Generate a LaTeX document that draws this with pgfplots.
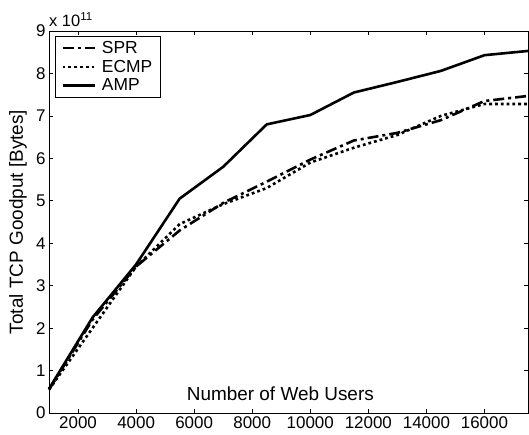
\documentclass[border=0pt]{standalone}
\usepackage{pgfplots}
\pgfplotsset{compat=1.18}
\usepackage{fontspec}
\setmainfont{Liberation Sans}

\begin{document}
\begin{tikzpicture}[font=\fontsize{19}{22}\selectfont]
\begin{axis}[
    width=479bp, height=382bp, scale only axis,
    xmin=1000, xmax=17500, ymin=0, ymax=9,
    xtick={2000,4000,...,16000}, ytick={0,1,...,9},
    tick align=inside, major tick length=4bp,
    every tick/.style={black, line width=0.6bp},
    axis line style={line width=0.8bp},
    tick label style={font=\fontsize{17}{20}\selectfont},
    /pgf/number format/assume math mode=true,
    /pgf/number format/1000 sep={},
    scaled ticks=false,
    ylabel={Total TCP Goodput [Bytes]},
    ylabel style={at={(rel axis cs:0,0.5)}, yshift=31bp, anchor=center},
    legend cell align=left,
    legend style={at={(rel axis cs:0.0125,0.987)}, anchor=north west,
        draw=black, line width=0.8bp, inner xsep=6bp, inner ysep=3bp,
        row sep=1bp, font=\fontsize{17.5}{20}\selectfont,
        nodes={inner sep=2bp}},
    legend image code/.code={\path (0bp,0bp) (36bp,0bp);
        \draw[#1] (0bp,0bp) -- (32bp,0bp);},
    clip=false,
]
% SPR
\addplot[black, line width=2.6bp, dash pattern=on 11bp off 4bp on 3bp off 4bp]
    coordinates {(1000,0.55) (2500,2.2) (4000,3.45) (5500,4.3) (7000,4.95)
    (8500,5.45) (10000,5.97) (11500,6.42) (13000,6.6) (14500,6.9)
    (16000,7.35) (17500,7.47)};
\addlegendentry{SPR}
% ECMP
\addplot[black, line width=2.6bp, dash pattern=on 2.8bp off 3bp]
    coordinates {(1000,0.55) (2500,2.0) (4000,3.45) (5500,4.45) (7000,4.92)
    (8500,5.3) (10000,5.9) (11500,6.25) (13000,6.55) (14500,7.0)
    (16000,7.28) (17500,7.28)};
\addlegendentry{ECMP}
% AMP
\addplot[black, line width=2.6bp]
    coordinates {(1000,0.57) (2500,2.25) (4000,3.5) (5500,5.05) (7000,5.8)
    (8500,6.8) (10000,7.02) (11500,7.55) (13000,7.8) (14500,8.06)
    (16000,8.43) (17500,8.53)};
\addlegendentry{AMP}
\node[anchor=center] at (rel axis cs:0.483,0.05) {Number of Web Users};
\node[anchor=south west, inner sep=0pt] at ([yshift=4bp]rel axis cs:0,1)
    {\fontsize{16.5}{19}\selectfont x 10\textsuperscript{\fontsize{11.5}{13}\selectfont 11}};
\coordinate (sw) at (rel axis cs:0,0);
\coordinate (ne) at (rel axis cs:1,1);
\end{axis}
\pgfresetboundingbox
\path ([shift={(-49bp,-22bp)}]sw) rectangle ([shift={(1bp,31bp)}]ne);
\end{tikzpicture}
\end{document}
